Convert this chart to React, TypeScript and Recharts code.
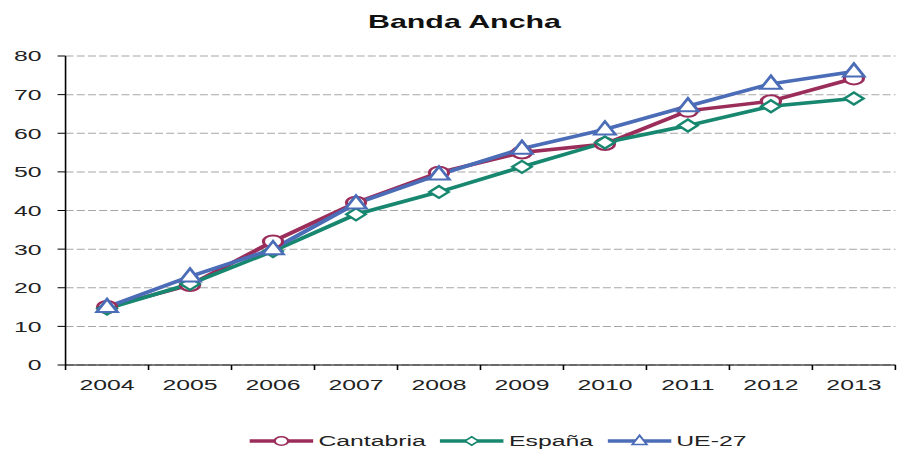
import React from 'react';
import {
  LineChart,
  Line,
  XAxis,
  YAxis,
  CartesianGrid,
  Legend
} from 'recharts';

const years = ['2004', '2005', '2006', '2007', '2008', '2009', '2010', '2011', '2012', '2013'];
const cantabria = [15, 20.7, 32, 42, 49.8, 55, 57.2, 65.8, 68.3, 74.2];
const espana = [14.6, 21, 29.5, 39, 44.8, 51.3, 57.6, 62, 67, 69];
const ue27 = [15, 22.9, 30, 41.8, 49.3, 56, 61, 67, 72.8, 76];
const yTicks = [0, 10, 20, 30, 40, 50, 60, 70, 80];

const seriesInfo = [
  { key: 'cantabria', name: 'Cantabria', color: '#9b2d5b', shape: 'circle' },
  { key: 'espana', name: 'España', color: '#17876f', shape: 'diamond' },
  { key: 'ue27', name: 'UE-27', color: '#4b6cb7', shape: 'triangle' }
];

const data = years.map((year, i) => ({
  year,
  cantabria: cantabria[i],
  espana: espana[i],
  ue27: ue27[i]
}));

// the reference picture is stretched sideways, so the chart is drawn narrow and scaled
const OUT_W = 897;
const OUT_H = 453;
const CHART_W = 561;
const Y_W = 41;
const RIGHT = 1;
const BAND = (CHART_W - Y_W - RIGHT) / years.length;
const FONT = '"Liberation Sans", Arial, sans-serif';

const Marker = ({ shape, cx, cy, color, k = 1 }: any) => {
  if (cx == null || cy == null) return null;
  if (shape === 'diamond') {
    return (
      <path
        d={`M${cx},${cy - 6 * k} L${cx + 6 * k},${cy} L${cx},${cy + 6 * k} L${cx - 6 * k},${cy} Z`}
        fill="#fff"
        stroke={color}
        strokeWidth={2 * k}
      />
    );
  }
  if (shape === 'triangle') {
    return (
      <path
        d={`M${cx},${cy - 8 * k} L${cx + 6.5 * k},${cy + 5 * k} L${cx - 6.5 * k},${cy + 5 * k} Z`}
        fill="#fff"
        stroke={color}
        strokeWidth={2 * k}
      />
    );
  }
  return <circle cx={cx} cy={cy} r={6 * k} fill="#fff" stroke={color} strokeWidth={2 * k} />;
};

const XTick = ({ x, y, payload, index }: any) => {
  const axisY = y - 14;
  return (
    <g>
      <line x1={x - BAND / 2} x2={x - BAND / 2} y1={axisY} y2={axisY + 5} stroke="#000" />
      {index === years.length - 1 && (
        <line x1={x + BAND / 2} x2={x + BAND / 2} y1={axisY} y2={axisY + 5} stroke="#000" />
      )}
      <text x={x} y={y} dy="0.71em" textAnchor="middle" fill="#222" fontSize={15.5} fontFamily={FONT}>
        {payload.value}
      </text>
    </g>
  );
};

const LegendContent = () => (
  <div
    style={{
      display: 'flex',
      justifyContent: 'center',
      alignItems: 'center',
      height: 24,
      paddingLeft: 72,
      fontFamily: FONT,
      fontSize: 15.5,
      color: '#222'
    }}
  >
    {seriesInfo.map((s) => (
      <div key={s.key} style={{ display: 'flex', alignItems: 'center', marginRight: 9 }}>
        <svg width={40} height={16}>
          <line x1={0} x2={40} y1={8} y2={8} stroke={s.color} strokeWidth={3.5} />
          <Marker shape={s.shape} cx={20} cy={8} color={s.color} k={0.7} />
        </svg>
        <span style={{ marginLeft: 3 }}>{s.name}</span>
      </div>
    ))}
  </div>
);

export default function App() {
  return (
    <div style={{ position: 'absolute', left: 0, top: 0, width: OUT_W, height: OUT_H, overflow: 'hidden', background: '#fff' }}>
      <div
        style={{
          position: 'relative',
          width: CHART_W,
          height: OUT_H,
          transform: `scaleX(${OUT_W / CHART_W})`,
          transformOrigin: '0 0'
        }}
      >
        <div
          style={{
            position: 'absolute',
            top: 12,
            left: 0,
            width: 581,
            textAlign: 'center',
            fontFamily: FONT,
            fontWeight: 'bold',
            fontSize: 19,
            lineHeight: '19px',
            color: '#111'
          }}
        >
          Banda Ancha
        </div>
        <LineChart
          width={CHART_W}
          height={OUT_H}
          data={data}
          margin={{ top: 56, right: RIGHT, left: 0, bottom: 0 }}
        >
          <CartesianGrid vertical={false} stroke="#a6a6a6" strokeDasharray="5 2" />
          <XAxis
            dataKey="year"
            height={64}
            padding={{ left: BAND / 2, right: BAND / 2 }}
            axisLine={{ stroke: '#000' }}
            tickLine={false}
            tickSize={0}
            tickMargin={14}
            tick={<XTick />}
            interval={0}
          />
          <YAxis
            width={Y_W}
            domain={[0, 80]}
            ticks={yTicks}
            axisLine={{ stroke: '#000' }}
            tickLine={{ stroke: '#000' }}
            tickSize={5}
            tickMargin={10}
            tick={{ fill: '#222', fontSize: 15.5, fontFamily: FONT }}
          />
          <Legend verticalAlign="bottom" height={24} content={<LegendContent />} />
          {seriesInfo.map((s) => (
            <Line
              key={s.key}
              type="linear"
              dataKey={s.key}
              name={s.name}
              stroke={s.color}
              strokeWidth={3.5}
              dot={(p: any) => <Marker key={`${s.key}-${p.index}`} shape={s.shape} cx={p.cx} cy={p.cy} color={s.color} />}
              activeDot={false}
              isAnimationActive={false}
            />
          ))}
        </LineChart>
      </div>
    </div>
  );
}
